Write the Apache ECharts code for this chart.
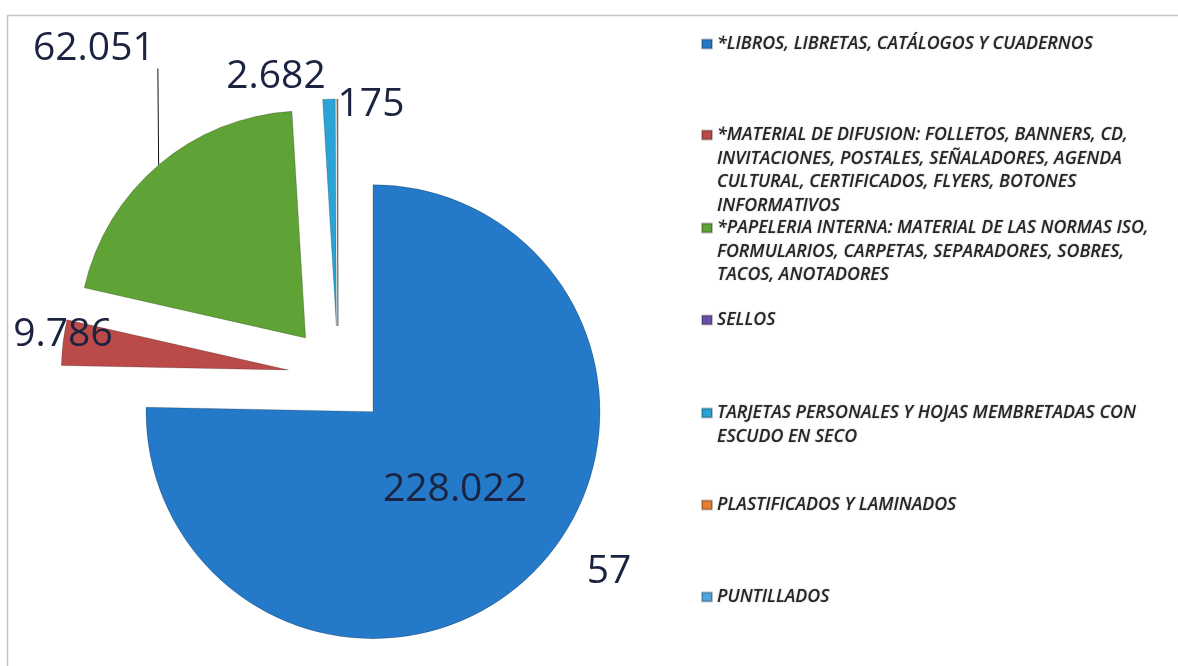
<!DOCTYPE html>
<html>
<head>
<meta charset="utf-8">
<script src="https://cdn.jsdelivr.net/npm/echarts@6/dist/echarts.min.js"></script>
<style>
  html, body { margin: 0; padding: 0; background: #ffffff; }
  #chart { width: 1178px; height: 666px; }
</style>
</head>
<body>
<div id="chart"></div>
<script>
// Categories of printed material and their quantities
const categories = [
  '*LIBROS, LIBRETAS, CATÁLOGOS Y CUADERNOS',
  '*MATERIAL DE DIFUSION: FOLLETOS, BANNERS, CD, INVITACIONES, POSTALES, SEÑALADORES, AGENDA CULTURAL, CERTIFICADOS, FLYERS, BOTONES INFORMATIVOS',
  '*PAPELERIA INTERNA: MATERIAL DE LAS NORMAS ISO, FORMULARIOS, CARPETAS, SEPARADORES, SOBRES, TACOS, ANOTADORES',
  'SELLOS',
  'TARJETAS PERSONALES Y HOJAS MEMBRETADAS CON ESCUDO EN SECO',
  'PLASTIFICADOS Y LAMINADOS',
  'PUNTILLADOS'
];
const legendLines = [
  ['*LIBROS, LIBRETAS, CATÁLOGOS Y CUADERNOS'],
  ['*MATERIAL DE DIFUSION: FOLLETOS, BANNERS, CD,', 'INVITACIONES, POSTALES, SEÑALADORES, AGENDA', 'CULTURAL, CERTIFICADOS, FLYERS, BOTONES', 'INFORMATIVOS'],
  ['*PAPELERIA INTERNA: MATERIAL DE LAS NORMAS ISO,', 'FORMULARIOS, CARPETAS, SEPARADORES, SOBRES,', 'TACOS, ANOTADORES'],
  ['SELLOS'],
  ['TARJETAS PERSONALES Y HOJAS MEMBRETADAS CON', 'ESCUDO EN SECO'],
  ['PLASTIFICADOS Y LAMINADOS'],
  ['PUNTILLADOS']
];
const values = [228022, 9786, 62051, null, 2682, 175, 57];
const colors = ['#2479C8', '#BA4B48', '#5FA235', '#6A52A3', '#2AA3D6', '#E57E33', '#4FA5DC'];

// Thousands separated with a dot
function fmt(v) {
  return String(v).replace(/\B(?=(\d{3})+(?!\d))/g, '.');
}

const chart = echarts.init(document.getElementById('chart'));

const pieCenter = [338, 376];
const pieRadius = 227;
const explode = 50;

const valueFont = { fontFamily: 'Open Sans', fontSize: 39, color: '#1B2340' };

// Where each value label sits (anchor, horizontal alignment)
const labelSpots = [
  [455, 490, 'center'],
  [63, 335, 'center'],
  [33, 49, 'left'],
  null,
  [276, 77, 'center'],
  [371, 105, 'center'],
  [609, 572, 'center']
];

// One legend block per category, each placed by the centre of its first line
const lineH = 23.5;
const firstLineY = [44, 135, 228, 320, 413, 505, 597];
const legends = categories.map((name, i) => {
  const n = legendLines[i].length;
  return {
    data: [name],
    orient: 'vertical',
    left: 701,
    top: firstLineY[i] - (2 * n - 1) * lineH / 2,
    padding: 0,
    icon: 'rect',
    itemWidth: 10,
    itemHeight: 9,
    selectedMode: false,
    // leading blank lines keep the icon level with the first text line
    formatter: () => '\n'.repeat(n - 1) + legendLines[i].join('\n'),
    textStyle: {
      fontFamily: 'Open Sans',
      fontStyle: 'italic',
      fontWeight: 600,
      fontSize: 17.8,
      color: '#262626',
      lineHeight: lineH,
      textShadowColor: 'rgba(0,0,0,0.25)',
      textShadowBlur: 2
    }
  };
});

chart.setOption({
  animation: false,
  backgroundColor: '#ffffff',
  graphic: [{
    type: 'rect',
    shape: { x: 7.5, y: 15.5, width: 1200, height: 700 },
    style: { fill: 'none', stroke: '#c4c4c4', lineWidth: 1.5 },
    silent: true
  }],
  legend: legends,
  series: [
    // exploded slices
    {
      type: 'pie',
      center: pieCenter,
      radius: pieRadius,
      startAngle: 90,
      clockwise: true,
      selectedMode: 'multiple',
      selectedOffset: explode,
      emphasis: { disabled: true },
      itemStyle: { borderColor: 'rgba(0,0,0,0.25)', borderWidth: 0.8 },
      label: { show: false },
      labelLine: { show: false },
      data: categories.map((name, i) => ({
        name: name,
        value: values[i],
        selected: true,
        itemStyle: { color: colors[i] }
      }))
    },
    // value labels; its rim lies on the outer edge of the exploded slices
    {
      type: 'pie',
      center: pieCenter,
      radius: pieRadius + explode,
      startAngle: 90,
      clockwise: true,
      silent: true,
      selectedMode: false,
      avoidLabelOverlap: false,
      emphasis: { disabled: true },
      itemStyle: { color: 'rgba(0,0,0,0)', borderWidth: 0 },
      label: {
        show: true,
        position: 'outside',
        formatter: p => fmt(p.value),
        ...valueFont
      },
      labelLine: { show: false },
      labelLayout: params => {
        const spot = labelSpots[params.dataIndex];
        if (!spot) return {};
        return { x: spot[0], y: spot[1], align: spot[2], verticalAlign: 'middle' };
      },
      data: categories.map((name, i) => {
        const item = { name: name, value: values[i] };
        if (values[i] === null) item.label = { show: false };
        if (i === 2) {
          // right padding widens the box so the leader rises straight up to its end
          item.label = { lineHeight: 30, padding: [0, 128, 0, 0] };
          item.labelLine = { show: true, length: 10, length2: 0, lineStyle: { color: '#111', width: 1 } };
        }
        return item;
      })
    }
  ]
});
</script>
</body>
</html>
